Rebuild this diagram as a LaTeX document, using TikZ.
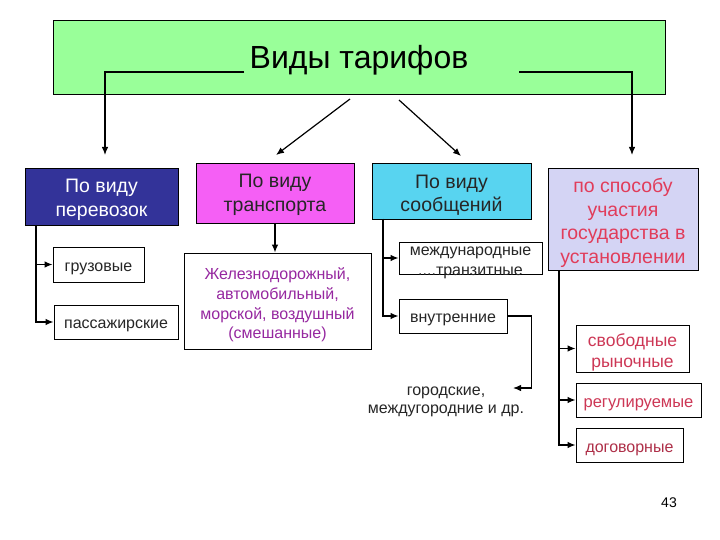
\documentclass[tikz,border=0pt]{standalone}
\usepackage{fontspec}
\setmainfont{Liberation Sans}
\usetikzlibrary{arrows.meta}
\definecolor{topgreen}{RGB}{153,255,153}
\definecolor{navy}{RGB}{51,51,153}
\definecolor{magentabox}{RGB}{245,95,245}
\definecolor{cyanbox}{RGB}{88,212,240}
\definecolor{lavender}{RGB}{212,212,244}
\definecolor{crimson}{RGB}{225,60,90}
\definecolor{subred}{RGB}{205,55,85}
\definecolor{purpletext}{RGB}{150,40,160}
\tikzset{
  box/.style={draw=black, line width=0.9pt, inner sep=0pt, anchor=center},
  sub/.style={box, fill=white},
  lbl/.style={inner sep=0pt, align=center, anchor=center},
  hdrtxt/.style={lbl, font=\fontsize{19.5}{23.5}\selectfont},
  subtxt/.style={lbl, font=\fontsize{16}{19.8}\selectfont, text=black!85},
  conn/.style={line width=1.2pt, draw=black},
  arr/.style={conn, -{Latex[length=8pt,width=6.5pt]}}
}
\begin{document}
\begin{tikzpicture}[x=1pt,y=-1pt]
\useasboundingbox (0,0) rectangle (720,540);
\fill[white] (0,0) rectangle (720,540);

% top box
\node[box, fill=topgreen, minimum width=612pt, minimum height=74pt] (top) at (359,57) {};
\node[lbl, font=\fontsize{32}{36}\selectfont] (title) at (359,60) {Виды тарифов};

% headers
\node[box, fill=navy, minimum width=153pt, minimum height=57pt] (b1) at (101.5,196.5) {};
\node[hdrtxt, text=white] (b1t) at (101.5,200) {По виду\\перевозок};
\node[box, fill=magentabox, minimum width=158pt, minimum height=60pt] (b2) at (275,193) {};
\node[hdrtxt, text=black!85] (b2t) at (275,195) {По виду\\транспорта};
\node[box, fill=cyanbox, minimum width=159pt, minimum height=56pt] (b3) at (451.5,191) {};
\node[hdrtxt, text=black!85] (b3t) at (451.5,195) {По виду\\сообщений};
\node[box, fill=lavender, minimum width=150pt, minimum height=102pt] (b4) at (623,219) {};
\node[hdrtxt, text=crimson] (b4t) at (623,223) {по способу\\участия\\государства в\\установлении};

% sub boxes
\node[sub, minimum width=91pt, minimum height=35pt] (g1) at (98.5,264.5) {};
\node[subtxt] (g1t) at (98.5,269) {грузовые};
\node[sub, minimum width=124pt, minimum height=34pt] (g2) at (116,322) {};
\node[subtxt] (g2t) at (116,326) {пассажирские};
\node[sub, minimum width=187pt, minimum height=96pt] (t1) at (277.5,301) {};
\node[subtxt, text=purpletext] (t1t) at (277.5,305) {Железнодорожный,\\автомобильный,\\морской, воздушный\\(смешанные)};
\node[sub, minimum width=143pt, minimum height=32pt] (s1) at (470.5,258) {};
\node[subtxt] (s1t) at (470.5,263) {международные\\....транзитные};
\node[sub, minimum width=108pt, minimum height=34pt] (s2) at (453,316) {};
\node[subtxt] (s2t) at (453,320) {внутренние};
\node[lbl, font=\fontsize{16}{18.5}\selectfont, text=black!85] (gor) at (446,402) {городские,\\междугородние и др.};
\node[sub, minimum width=113pt, minimum height=47pt] (p1) at (632.5,348.5) {};
\node[lbl, text=subred, font=\fontsize{17.5}{21}\selectfont] (p1t) at (632.5,352) {свободные\\рыночные};
\node[sub, minimum width=125pt, minimum height=34pt] (p2) at (638.5,400) {};
\node[lbl, text=subred, font=\fontsize{16.5}{20}\selectfont] (p2t) at (638.5,405) {регулируемые};
\node[sub, minimum width=107pt, minimum height=34pt] (p3) at (629.5,445) {};
\node[lbl, text=subred!85!black, font=\fontsize{16}{20}\selectfont] (p3t) at (629.5,450) {договорные};
\node[lbl, font=\fontsize{14}{16}\selectfont] (pg) at (669,503) {43};

% coordinates for connectors
\coordinate (tl) at (244,72);
\coordinate (tr) at (519,72);
\coordinate (a1) at (105,155);
\coordinate (a4) at (632,155);
\coordinate (d1s) at (350,99);
\coordinate (d1e) at (276,155);
\coordinate (d2s) at (399,100);
\coordinate (d2e) at (461,156);
\coordinate (v1) at (36,225);
\coordinate (v3) at (383,219);
\coordinate (v4) at (559,270);
\coordinate (gtip) at (513,388);

% top arrows
\draw[arr] (tl) -| (a1);
\draw[arr] (tr) -| (a4);
\draw[arr] (d1s) -- (d1e);
\draw[arr] (d2s) -- (d2e);

% branches
\draw[arr] (v1) |- (g1.west);
\draw[arr] (v1) |- (g2.west);
\draw[arr] (b2.south) -- (b2.south |- t1.north);
\draw[arr] (v3) |- (s1.west);
\draw[arr] (v3) |- (s2.west);
\draw[arr] (s2.east) -- ++(24,0) |- (gtip);
\draw[arr] (v4) |- (p1.west);
\draw[arr] (v4) |- (p2.west);
\draw[arr] (v4) |- (p3.west);
\end{tikzpicture}
\end{document}
